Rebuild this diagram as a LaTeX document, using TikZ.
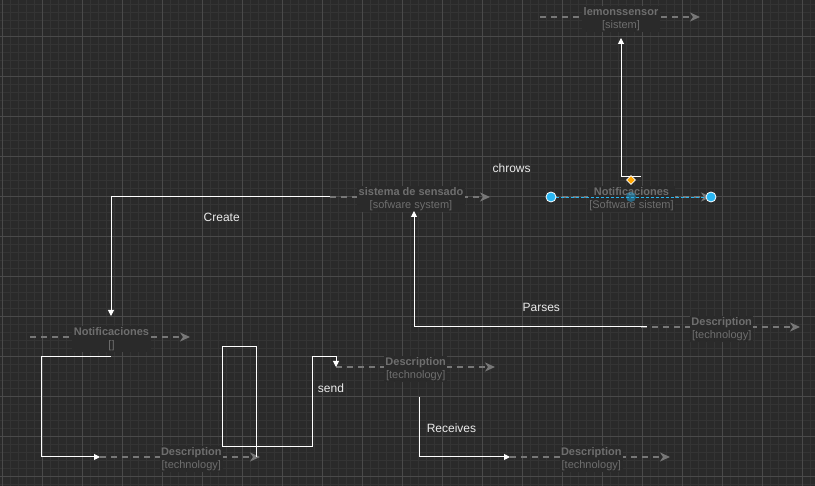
\documentclass[tikz,border=0pt]{standalone}
\usepackage{fontspec}
\setmainfont{Liberation Sans}
\usetikzlibrary{calc,arrows.meta,shapes.geometric}

\definecolor{canvas}{HTML}{2A2A2A}
\definecolor{minorgrid}{HTML}{343434}
\definecolor{majorgrid}{HTML}{4A4A4A}
\definecolor{relgray}{HTML}{777777}
\definecolor{labelgray}{HTML}{6E6E6E}
\definecolor{selblue}{HTML}{29B6F2}
\definecolor{handleorange}{HTML}{FFA500}

\begin{document}
\begin{tikzpicture}[x=1pt,y=-1pt,
  rel/.style={draw=relgray,line width=1.5pt,dash pattern=on 6pt off 5pt,
    -{Stealth[length=10pt,width=9pt,inset=3pt]}},
  rellabel/.style={fill=canvas,text=labelgray,align=center,inner sep=1.5pt,
    font=\fontsize{11}{13}\selectfont},
  flow/.style={draw=white,line width=1pt,-{Triangle[length=6pt,width=6pt]}},
  flowlabel/.style={text=white!92!black,inner sep=0pt,font=\fontsize{12}{14}\selectfont}]
  \useasboundingbox (0,0) rectangle (815,486);

  % canvas and grid
  \fill[canvas] (0,0) rectangle (815,486);
  \foreach \gx in {1.7,9.7,...,815} \draw[minorgrid] (\gx,0) -- (\gx,486);
  \foreach \gy in {4.7,12.7,...,486} \draw[minorgrid] (0,\gy) -- (815,\gy);
  \foreach \gx in {1.7,41.7,...,815} \draw[majorgrid] (\gx,0) -- (\gx,486);
  \foreach \gy in {36.7,76.7,...,486} \draw[majorgrid] (0,\gy) -- (815,\gy);

  % relationships (dashed)
  \coordinate (lemA) at (540,17);   \coordinate (lemB) at (700,17);
  \coordinate (sisA) at (330,197);  \coordinate (sisB) at (490,197);
  \coordinate (notA) at (551,197);  \coordinate (notB) at (711,197);
  \coordinate (ntlA) at (30,337);   \coordinate (ntlB) at (190,337);
  \coordinate (dblA) at (100,457);  \coordinate (dblB) at (260,457);
  \coordinate (dmdA) at (336,367);  \coordinate (dmdB) at (495,367);
  \coordinate (dbrA) at (510,457);  \coordinate (dbrB) at (670,457);
  \coordinate (drtA) at (641,327);  \coordinate (drtB) at (800,327);

  \draw[rel] (lemA) -- (lemB);
  \draw[rel] (sisA) -- (sisB);
  \draw[rel] (notA) -- (notB);
  \draw[rel] (ntlA) -- (ntlB);
  \draw[rel] (dblA) -- (dblB);
  \draw[rel] (dmdA) -- (dmdB);
  \draw[rel] (dbrA) -- (dbrB);
  \draw[rel] (drtA) -- (drtB);

  \node[rellabel] (lemonssensor) at (621,19) {\textbf{lemonssensor}\\{}[sistem]};
  \node[rellabel] (sensado) at (411,199) {\textbf{sistema de sensado}\\{}[sofware system]};
  \node[rellabel] (notifTop) at (631.5,199) {\textbf{Notificaciones}\\{}[Software sistem]};
  \node[rellabel] (notifLeft) at (111.5,339) {\textbf{Notificaciones}\\{}[]};
  \node[rellabel] (descLeft) at (191.3,459) {\textbf{Description}\\{}[technology]};
  \node[rellabel] (descMid) at (415.7,369) {\textbf{Description}\\{}[technology]};
  \node[rellabel] (descLow) at (591.3,459) {\textbf{Description}\\{}[technology]};
  \node[rellabel] (descRight) at (721.7,329) {\textbf{Description}\\{}[technology]};

  % white connectors
  \coordinate (upFoot) at (641,177);
  \coordinate (upTip) at (621,38);
  \draw[flow] (upFoot) -- (621,177) -- (upTip);

  \draw[flow] (sisA) -| (111,316);
  \node[flowlabel] (create) at (221.7,217.5) {Create};

  \coordinate (loopStart) at (111,357);
  \draw[flow] (loopStart) -- (41,357) -- (41,457) -- (dblA);

  \coordinate (sendStart) at (256,457);
  \draw[flow] (sendStart) -- (256,347) -- (222,347) -- (222,447) -- (312,447)
    -- (312,357) -- (336,357) -- (dmdA);
  \node[flowlabel] (send) at (331,388) {send};

  \coordinate (recvStart) at (419,397);
  \draw[flow] (recvStart) -- (419,457) -- (dbrA);
  \node[flowlabel] (receives) at (451.5,428) {Receives};

  \coordinate (parseStart) at (647,327);
  \draw[flow] (parseStart) -- (414,327) -- (414,211);
  \node[flowlabel] (parses) at (541.3,307.5) {Parses};

  \node[flowlabel] (chrows) at (511.6,168) {chrows};

  % selection handles
  \draw[selblue,line width=0.8pt,dash pattern=on 3pt off 2pt] (notA) -- (notB);
  \fill[selblue,opacity=0.45] (631,197) circle (5pt);
  \filldraw[draw=white,fill=selblue,line width=0.8pt] (notA) circle (5pt);
  \filldraw[draw=white,fill=selblue,line width=0.8pt] (notB) circle (5pt);
  \node[diamond,fill=handleorange,draw=white,line width=0.6pt,
    minimum size=9pt,inner sep=0pt] (bend) at (631,180) {};
\end{tikzpicture}
\end{document}
